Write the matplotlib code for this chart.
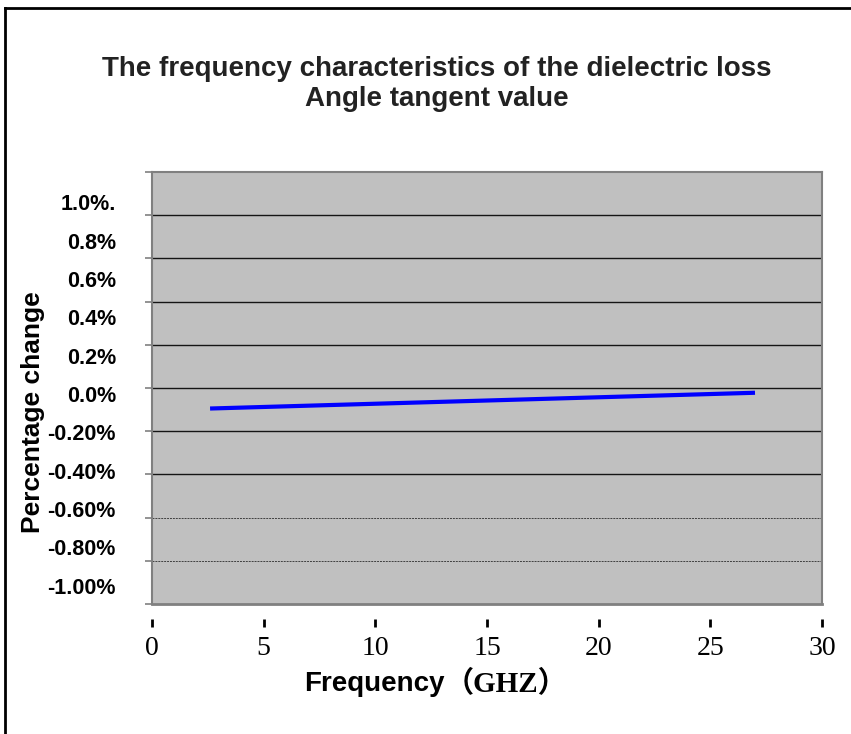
import numpy as np
import matplotlib.pyplot as plt
from matplotlib.lines import Line2D

# datos
frecuencia = [2.6, 27.0]
cambio = [-0.095, -0.022]

xticks = [0, 5, 10, 15, 20, 25, 30]
yticks = [1.0, 0.8, 0.6, 0.4, 0.2, 0.0, -0.2, -0.4, -0.6, -0.8, -1.0]
ytick_labels = ['1.0%.', '0.8%', '0.6%', '0.4%', '0.2%', '0.0%',
                '-0.20%', '-0.40%', '-0.60%', '-0.80%', '-1.00%']

W, H = 851, 734
fig = plt.figure(figsize=(W / 100, H / 100), dpi=100)
ax = fig.add_axes([152 / W, 1 - 604 / H, 670 / W, 432 / H])

ax.set_facecolor('#c0c0c0')
ax.set_xlim(0, 30)
ax.set_ylim(-1.0, 1.0)

# lineas de grilla
for v in yticks[1:-1]:
    if v in (-0.6, -0.8):
        ax.axhline(v, color='#404040', lw=0.7, ls=(0, (2, 1)))
    else:
        ax.axhline(v, color='#151515', lw=1.0)

ax.plot(frecuencia, cambio, color='#0000ff', lw=3, solid_capstyle='butt')

for s in ['left', 'right', 'top']:
    ax.spines[s].set_color('#808080')
    ax.spines[s].set_linewidth(1.5)
ax.spines['bottom'].set_position(('outward', 11))
ax.spines['bottom'].set_visible(False)
ax.axhline(-1.0, color='#808080', lw=2, clip_on=False)

ax.set_yticks(yticks)
ax.set_yticklabels([])
ax.tick_params(axis='y', direction='out', length=5, width=1.2, color='#808080')

ax.set_xticks(xticks)
ax.set_xticklabels([str(x) for x in xticks], fontsize=20, family='Liberation Serif')
ax.tick_params(axis='x', direction='out', length=6, width=2, color='black', pad=6)

# etiquetas del eje y (desalineadas como en el original)
pos = np.linspace(1 - 205 / H, 1 - 588 / H, len(ytick_labels))
for lab, p in zip(ytick_labels, pos):
    fig.text(116 / W, p, lab, ha='right', va='center', fontsize=15.5,
             fontweight='bold', family='Liberation Sans')

fig.text(33 / W, 1 - 412 / H, 'Percentage change', rotation=90, ha='center',
         va='center', fontsize=19, fontweight='bold', family='Liberation Sans')

fig.text(437 / W, 1 - 84 / H,
         'The frequency characteristics of the dielectric loss\nAngle tangent value',
         ha='center', va='center', fontsize=20, fontweight='bold',
         family='Liberation Sans', color='#222222', linespacing=1.25)

fig.text(445 / W, 1 - 684 / H, 'Frequency', ha='right', va='center',
         fontsize=20, fontweight='bold', family='Liberation Sans')
fig.text(445 / W, 1 - 684 / H, '（GHZ）', ha='left', va='center',
         fontsize=21, fontweight='bold', family=['Liberation Serif', 'Noto Sans CJK SC'])

# borde de la figura
fig.add_artist(Line2D([5 / W, 5 / W], [0, 1 - 8 / H], color='black', lw=2,
                      transform=fig.transFigure))
fig.add_artist(Line2D([5 / W, 1], [1 - 8 / H, 1 - 8 / H], color='black', lw=2,
                      transform=fig.transFigure))

fig.savefig('out.png', dpi=100)
